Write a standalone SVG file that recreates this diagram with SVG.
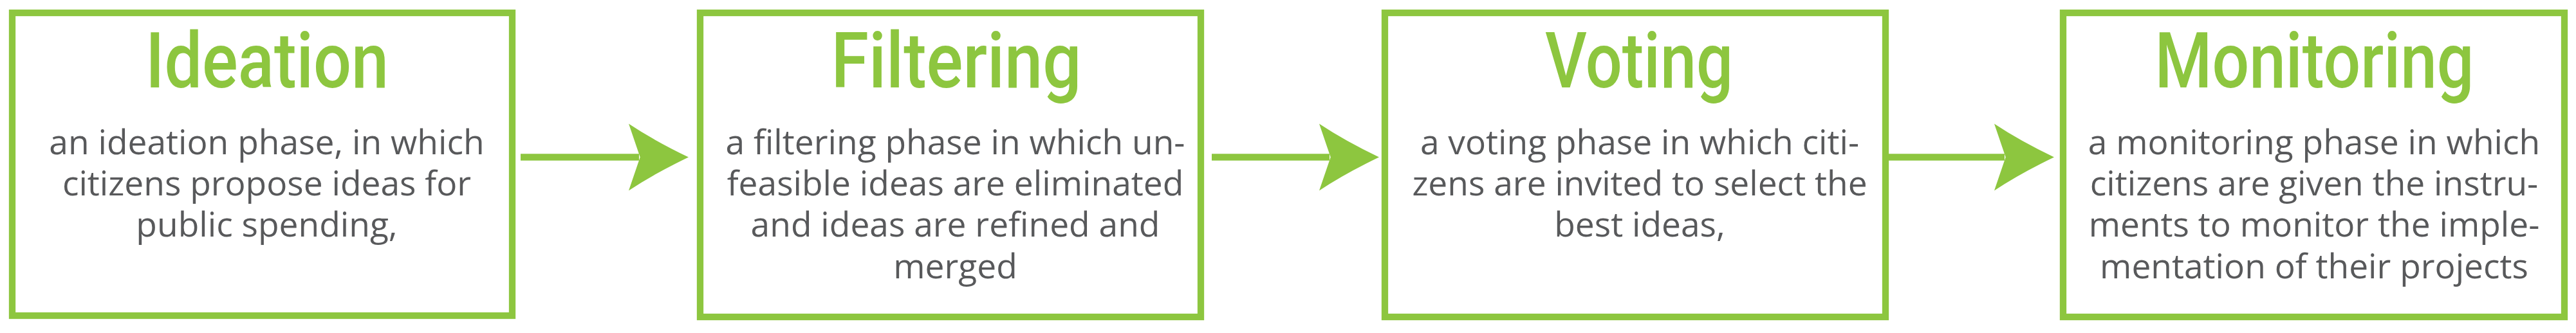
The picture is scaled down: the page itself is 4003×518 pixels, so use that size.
<svg xmlns="http://www.w3.org/2000/svg" width="4003" height="518" viewBox="0 0 4003 518">
<style>
.box{fill:#ffffff;stroke:#8dc63f;stroke-width:10.3}
.title{font-family:Roboto,"Open Sans",sans-serif;font-weight:500;font-size:120px;fill:#8dc63f;text-anchor:middle}
.body{font-family:"Open Sans","Noto Sans",sans-serif;font-size:53.3px;fill:#58595b;text-anchor:middle}
.conn{stroke:#8dc63f;stroke-width:10.5;fill:none}
</style>
<defs>
<marker id="ah" markerUnits="userSpaceOnUse" viewBox="-20 -56 100 112" markerWidth="100" markerHeight="112" refX="0" refY="0" orient="auto" overflow="visible">
<path d="M-16,-52 Q23,-26 77,0 Q23,26 -16,52 L1.7,0 Z" fill="#8dc63f"/>
</marker>
</defs>
<g id="connectors">
<line class="conn" x1="809" y1="244.5" x2="993" y2="244.5" marker-end="url(#ah)"/>
<line class="conn" x1="1883" y1="244.5" x2="2066" y2="244.5" marker-end="url(#ah)"/>
<line class="conn" x1="2935" y1="244.5" x2="3115" y2="244.5" marker-end="url(#ah)"/>
</g>
<g id="ideation">
<rect class="box" x="19" y="20" width="777" height="471"/>
<text class="title" x="415" y="136" textLength="378" lengthAdjust="spacingAndGlyphs">Ideation</text>
<text class="body" x="414.5" y="239.5">an ideation phase, in which</text>
<text class="body" x="414.5" y="304">citizens propose ideas for</text>
<text class="body" x="414.5" y="368.4">public spending,</text>
</g>
<g id="filtering">
<rect class="box" x="1088" y="20" width="778" height="473"/>
<text class="title" x="1486" y="136" textLength="389" lengthAdjust="spacingAndGlyphs">Filtering</text>
<text class="body" x="1484.5" y="239.5">a filtering phase in which un-</text>
<text class="body" x="1484.5" y="304">feasible ideas are eliminated</text>
<text class="body" x="1484.5" y="368.4">and ideas are refined and</text>
<text class="body" x="1484.5" y="432.8">merged</text>
</g>
<g id="voting">
<rect class="box" x="2152" y="20" width="778" height="473"/>
<text class="title" x="2547" y="136" textLength="292" lengthAdjust="spacingAndGlyphs">Voting</text>
<text class="body" x="2548" y="239.5">a voting phase in which citi-</text>
<text class="body" x="2548" y="304">zens are invited to select the</text>
<text class="body" x="2548" y="368.4">best ideas,</text>
</g>
<g id="monitoring">
<rect class="box" x="3206" y="20" width="779" height="473"/>
<text class="title" x="3596.5" y="136" textLength="496" lengthAdjust="spacingAndGlyphs">Monitoring</text>
<text class="body" x="3596" y="239.5">a monitoring phase in which</text>
<text class="body" x="3596" y="304">citizens are given the instru-</text>
<text class="body" x="3596" y="368.4">ments to monitor the imple-</text>
<text class="body" x="3596" y="432.8">mentation of their projects</text>
</g>
</svg>
